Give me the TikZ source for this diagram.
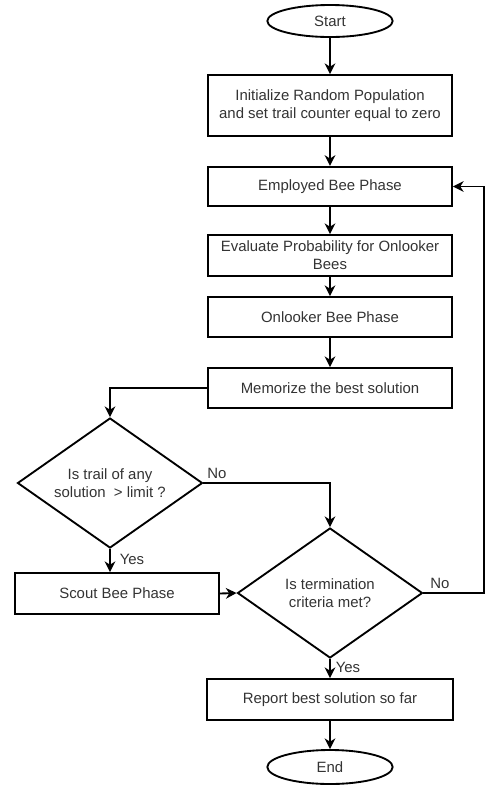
\documentclass[tikz,border=0pt]{standalone}
\usepackage{fontspec}
\setmainfont{Liberation Sans}
\usetikzlibrary{shapes.geometric,arrows.meta}
\begin{document}
\begin{tikzpicture}[x=0.75pt,y=-0.75pt,
  every node/.style={font=\fontsize{11.2pt}{13.5pt}\selectfont, text=black!80, align=center},
  box/.style={draw=black, line width=1.4pt, rectangle, minimum width=183pt, minimum height=30pt, inner sep=1pt},
  term/.style={draw=black, line width=1.4pt, ellipse, minimum width=94pt, minimum height=24pt, inner sep=0pt},
  dec/.style={draw=black, line width=1.4pt, diamond, shape aspect=1.423, minimum width=138.75pt, minimum height=97.5pt, inner sep=0pt},
  conn/.style={draw=black, line width=1.4pt, -{Stealth[length=8pt,width=8pt,inset=2.5pt]}},
  lbl/.style={inner sep=0pt}]
\useasboundingbox (0,0) rectangle (485,790);
\node[term] (start) at (330,21) {Start};
\node[box, minimum height=45.75pt] (init) at (330,105.5) {Initialize Random Population\\and set trail counter equal to zero};
\node[box, minimum height=29.5pt] (emp) at (330,186.5) {Employed Bee Phase};
\node[box, minimum height=30.75pt] (eval) at (330,255.5) {Evaluate Probability for Onlooker\\Bees};
\node[box] (onl) at (330,317) {Onlooker Bee Phase};
\node[box] (mem) at (330,388) {Memorize the best solution};
\node[dec] (d1) at (110,483) {Is trail of any\\solution \ > limit ?};
\node[dec] (d2) at (330,593) {Is termination\\criteria met?};
\node[box, minimum width=153pt, minimum height=30.75pt] (scout) at (117,593.5) {Scout Bee Phase};
\node[box, minimum width=184.5pt, minimum height=30.75pt] (rep) at (330,699.5) {Report best solution so far};
\node[term, minimum height=25.5pt] (end) at (330,767) {End};
\coordinate (loop) at (484,593);
\draw[conn] (start) -- (init);
\draw[conn] (init) -- (emp);
\draw[conn] (emp) -- (eval);
\draw[conn] (eval) -- (onl);
\draw[conn] (onl) -- (mem);
\draw[conn] (mem.west) -| (d1.north);
\draw[conn] (d1.east) -| (d2.north);
\draw[conn] (d1.south) -- (d1.south |- scout.north);
\draw[conn] (scout.east) -- (d2.west);
\draw[conn] (d2.east) -- (loop) |- (emp.east);
\draw[conn] (d2.south) -- (rep.north);
\draw[conn] (rep) -- (end);
\node[lbl] (no1) at (217,473) {No};
\node[lbl] (yes1) at (132,559) {Yes};
\node[lbl] (no2) at (440,583) {No};
\node[lbl] (yes2) at (348,667) {Yes};
\end{tikzpicture}
\end{document}
